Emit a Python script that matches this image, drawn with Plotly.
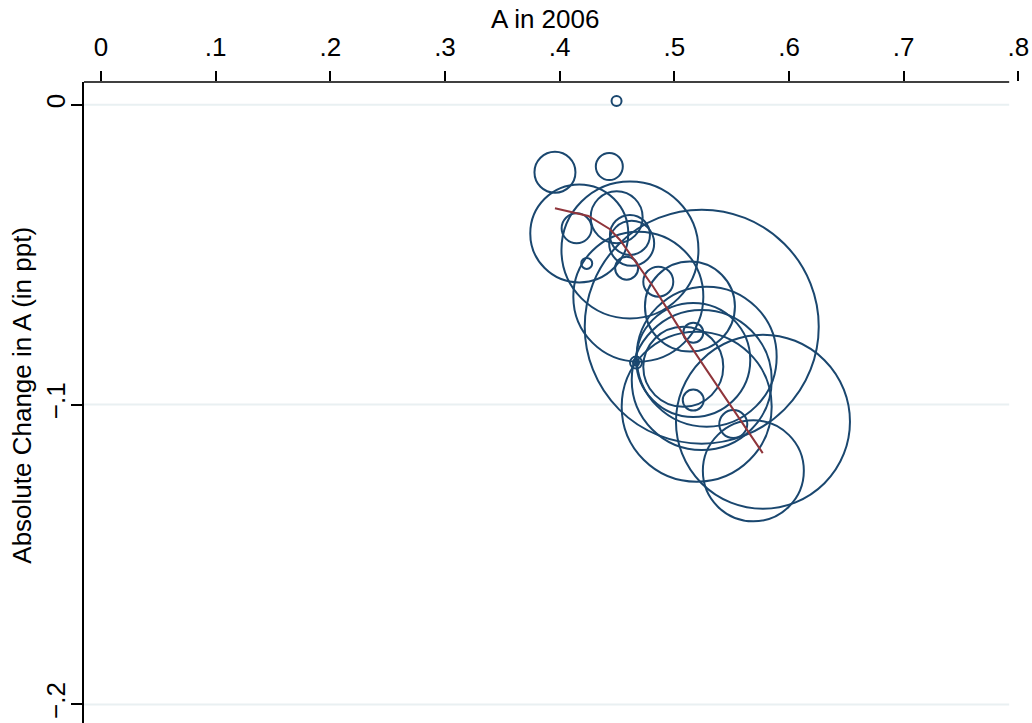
import plotly.graph_objects as go

# ---- data ----
a_2006 = [0.4496, 0.3959, 0.4433, 0.4171, 0.4148, 0.4497, 0.4613, 0.4613, 0.4628,
          0.4236, 0.4584, 0.4860, 0.5239, 0.4686, 0.5165, 0.4666, 0.4666, 0.5136,
          0.5282, 0.5165, 0.5078, 0.5239, 0.5195, 0.5165, 0.5514, 0.5773, 0.5689]
abs_change = [0.0013, -0.0225, -0.0206, -0.0429, -0.0412, -0.0375, -0.0484, -0.0434,
              -0.0462, -0.0529, -0.0545, -0.0590, -0.0740, -0.0640, -0.0760, -0.0860,
              -0.0860, -0.0673, -0.0840, -0.0851, -0.0874, -0.0918, -0.1007, -0.0985,
              -0.1065, -0.1057, -0.1221]
weight = [10, 41, 27, 98, 30, 52, 137, 40, 45,
          11, 23, 30, 234, 130, 20, 12, 6, 90,
          140, 114, 80, 140, 150, 21, 28, 174, 101]

fit_x = [0.3959, 0.4162, 0.4250, 0.4439, 0.4526, 0.4672, 0.4816, 0.4962,
         0.5108, 0.5282, 0.5456, 0.5631, 0.5771]
fit_y = [-0.0345, -0.0364, -0.0371, -0.0415, -0.0451, -0.0529, -0.0607, -0.0695,
         -0.0785, -0.0885, -0.0985, -0.1085, -0.1162]

x_ticks = [0, 0.1, 0.2, 0.3, 0.4, 0.5, 0.6, 0.7, 0.8]
x_ticktext = ["0", ".1", ".2", ".3", ".4", ".5", ".6", ".7", ".8"]
y_ticks = [0, -0.1, -0.2]
y_ticktext = ["0", "\u2212.1", "\u2212.2"]

x_title = "A in 2006"
y_title = "Absolute Change in A (in ppt)"

NAVY = "#1a476f"
RED = "#90353b"
GRID = "#e9f0f2"
FONT = "Liberation Sans, Arial, Helvetica, sans-serif"
FS = 26

x_range = [-0.0148, 0.8058]
x_line_end = 0.792
y_range = [-0.2062, 0.0076]

fig = go.Figure()

fig.add_trace(go.Scatter(
    x=a_2006, y=abs_change, mode="markers",
    marker=dict(symbol="circle-open", size=weight, color=NAVY, opacity=1,
                line=dict(width=2, color=NAVY)),
    showlegend=False, hoverinfo="skip"))

fig.add_trace(go.Scatter(
    x=fit_x, y=fit_y, mode="lines",
    line=dict(color=RED, width=2),
    showlegend=False, hoverinfo="skip"))

shapes = []
for yv in y_ticks:
    shapes.append(dict(type="line", xref="x", yref="y", x0=x_range[0], x1=x_line_end,
                       y0=yv, y1=yv, line=dict(color=GRID, width=2), layer="below"))
shapes.append(dict(type="line", xref="x", yref="paper", x0=x_range[0], x1=x_line_end,
                   y0=1, y1=1, line=dict(color="black", width=1.5), layer="above"))

fig.update_layout(
    width=1032, height=723,
    margin=dict(l=84, r=7, t=82, b=0),
    paper_bgcolor="white", plot_bgcolor="white",
    font=dict(family=FONT, size=FS, color="black"),
    shapes=shapes,
    xaxis=dict(side="top", range=x_range, tickmode="array", tickvals=x_ticks,
               ticktext=x_ticktext, ticks="outside", ticklen=10, tickwidth=1.5,
               tickcolor="black", showgrid=False, zeroline=False, showline=False,
               tickfont=dict(size=FS), ticklabelstandoff=5),
    yaxis=dict(range=y_range, tickmode="array", tickvals=y_ticks, ticktext=y_ticktext,
               tickangle=-90, ticks="outside", ticklen=11, tickwidth=1.5,
               tickcolor="black", showgrid=False, zeroline=False, showline=True,
               linecolor="black", linewidth=1.5, tickfont=dict(size=FS),
               ticklabelstandoff=-4),
    annotations=[
        dict(text=x_title, xref="paper", yref="paper", x=0.49, y=1.099,
             xanchor="center", yanchor="middle", showarrow=False,
             font=dict(size=FS)),
        dict(text=y_title, xref="paper", yref="paper", x=-0.066, y=0.512,
             xanchor="center", yanchor="middle", showarrow=False, textangle=-90,
             font=dict(size=FS)),
    ],
)

fig.write_html("out.html", config={"displayModeBar": False},
               post_script="document.body.style.margin='0';document.body.style.overflow='hidden';")
